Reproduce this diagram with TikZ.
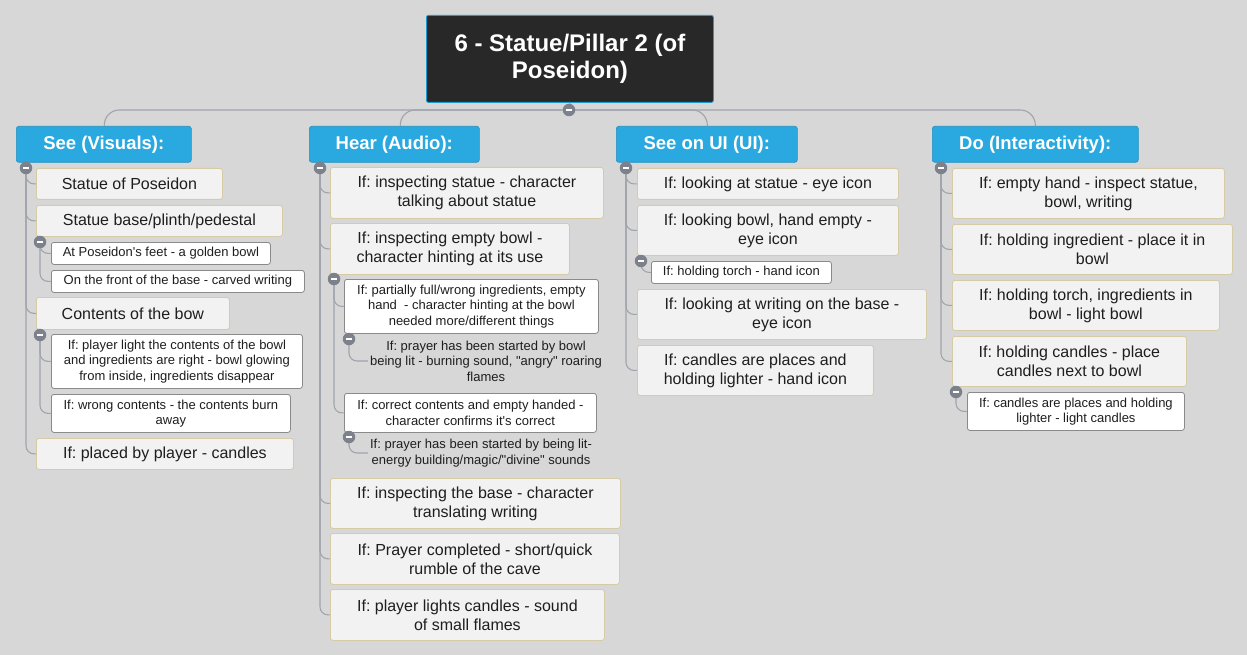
\documentclass[tikz,border=0pt]{standalone}
\usepackage{fontspec}
\setmainfont{Liberation Sans}[Ligatures=TeXOff]
\definecolor{bgc}{HTML}{D7D7D7}
\definecolor{headc}{HTML}{29A9E0}
\definecolor{titlec}{HTML}{282828}
\definecolor{titleb}{HTML}{1E9AD2}
\definecolor{bigfill}{HTML}{F2F2F2}
\definecolor{bigborder}{HTML}{D5CBA6}
\definecolor{smallborder}{HTML}{8A8A8A}
\definecolor{connc}{HTML}{A0A4AC}
\definecolor{knobc}{HTML}{7C818B}
\definecolor{txt}{HTML}{1E1E1E}
\newcommand\fbig{\fontsize{16}{19}\selectfont}
\newcommand\fsmall{\fontsize{13}{15.5}\selectfont}
\newcommand\fhead{\fontsize{18.5}{22}\selectfont\bfseries}
\newcommand\ftitle{\fontsize{24}{27}\selectfont\bfseries}
\frenchspacing
\begin{document}
\begin{tikzpicture}[x=1pt,y=-1pt,
  big/.style={draw=bigborder, fill=bigfill, rounded corners=2.5pt, inner sep=0pt, align=center, font=\fbig, text=txt, anchor=north west, line width=0.8pt},
  small/.style={draw=smallborder, fill=white, rounded corners=2.5pt, inner sep=0pt, align=center, font=\fsmall, text=txt, anchor=north west, line width=0.8pt},
  plain/.style={inner sep=2pt, align=center, font=\fsmall, text=txt},
  head/.style={fill=headc, draw=headc!85!black, rounded corners=2.5pt, inner sep=0pt, align=center, font=\fhead, text=white, anchor=north west, minimum height=36pt, line width=0.6pt},
  knob/.style={circle, fill=knobc, minimum size=12.5pt, inner sep=0pt,
    path picture={\draw[white, line width=1.6pt] ([xshift=-3pt]path picture bounding box.center) -- ([xshift=3pt]path picture bounding box.center);}},
  conn/.style={draw=connc, line width=1.1pt, rounded corners=8pt},
  topconn/.style={draw=connc, line width=1.1pt, rounded corners=15pt}
]
\useasboundingbox (0,0) rectangle (1247,655);
\fill[bgc] (0,0) rectangle (1247,655);

% title
\node[fill=titlec, draw=titleb, line width=0.8pt, rounded corners=2pt, anchor=north west, minimum width=287pt, minimum height=87pt, inner sep=0pt, align=center, font=\ftitle, text=white] (title) at (426,15) {6 - Statue/Pillar 2 (of\\Poseidon)};
\coordinate (tk) at (569,110);

% headers
\node[head, minimum width=175pt] (h1) at (16,126) {See (Visuals):};
\node[head, minimum width=170pt] (h2) at (309,126) {Hear (Audio):};
\node[head, minimum width=181pt] (h3) at (616,126) {See on UI (UI):};
\node[head, minimum width=206pt] (h4) at (932,126) {Do (Interactivity):};

% column 1
\node[big, minimum width=186pt, minimum height=31pt] (v1) at (36,168) {Statue of Poseidon};
\node[big, minimum width=246pt, minimum height=31pt] (v2) at (36,205) {Statue base/plinth/pedestal};
\node[small, minimum width=219pt, minimum height=22pt] (v2a) at (51,242) {At Poseidon's feet - a golden bowl};
\node[small, minimum width=253pt, minimum height=22pt] (v2b) at (51,270) {On the front of the base - carved writing};
\node[big, minimum width=193pt, minimum height=32pt] (v3) at (36,297) {Contents of the bow};
\node[small, minimum width=251pt, minimum height=54pt] (v3a) at (51,334) {If: player light the contents of the bowl\\and ingredients are right - bowl glowing\\from inside, ingredients disappear};
\node[small, minimum width=239pt, minimum height=38pt] (v3b) at (51,394) {If: wrong contents - the contents burn\\away};
\node[big, minimum width=257pt, minimum height=31pt] (v4) at (36,438) {If: placed by player - candles};

% column 2
\node[big, minimum width=273pt, minimum height=51pt] (a1) at (330,167) {If: inspecting statue - character\\talking about statue};
\node[big, minimum width=239pt, minimum height=51pt] (a2) at (330,223) {If: inspecting empty bowl -\\character hinting at its use};
\node[small, minimum width=254pt, minimum height=54pt] (a2a) at (344,279) {If: partially full/wrong ingredients, empty\\hand\ \ - character hinting at the bowl\\needed more/different things};
\node[plain] (a2a1) at (486,361) {If: prayer has been started by bowl\\being lit - burning sound, "angry" roaring\\flames};
\node[small, minimum width=252pt, minimum height=39pt] (a2b) at (344,393) {If: correct contents and empty handed -\\character confirms it's correct};
\node[plain] (a2b1) at (481,453) {If: prayer has been started by being lit-\\energy building/magic/"divine" sounds};
\node[big, minimum width=290pt, minimum height=50pt] (a3) at (330,478) {If: inspecting the base - character\\translating writing};
\node[big, minimum width=289pt, minimum height=51pt] (a4) at (330,533) {If: Prayer completed - short/quick\\rumble of the cave};
\node[big, minimum width=274pt, minimum height=51pt] (a5) at (330,589) {If: player lights candles - sound\\of small flames};

% column 3
\node[big, minimum width=261pt, minimum height=31pt] (u1) at (637,168) {If: looking at statue - eye icon};
\node[big, minimum width=261pt, minimum height=50pt] (u2) at (637,205) {If: looking bowl, hand empty -\\eye icon};
\node[small, minimum width=180pt, minimum height=22pt] (u2a) at (651,261) {If: holding torch - hand icon};
\node[big, minimum width=289pt, minimum height=50pt] (u3) at (637,289) {If: looking at writing on the base -\\eye icon};
\node[big, minimum width=236pt, minimum height=50pt] (u4) at (637,345) {If: candles are places and\\holding lighter - hand icon};

% column 4
\node[big, minimum width=272pt, minimum height=50pt] (d1) at (952,168) {If: empty hand - inspect statue,\\bowl, writing};
\node[big, minimum width=280pt, minimum height=50pt] (d2) at (952,224) {If: holding ingredient - place it in\\bowl};
\node[big, minimum width=267pt, minimum height=50pt] (d3) at (952,280) {If: holding torch, ingredients in\\bowl - light bowl};
\node[big, minimum width=234pt, minimum height=50pt] (d4) at (952,336) {If: holding candles - place\\candles next to bowl};
\node[small, minimum width=217pt, minimum height=38pt] (d4a) at (967,392) {If: candles are places and holding\\lighter - light candles};

% knob coordinates
\coordinate (k1) at (26,168);
\coordinate (k1b) at (40,242);
\coordinate (k1c) at (40,335);
\coordinate (k2) at (320,168);
\coordinate (k2a) at (334,279);
\coordinate (k2b) at (349,339);
\coordinate (k2c) at (349,437);
\coordinate (k3) at (626,168);
\coordinate (k3a) at (641,261);
\coordinate (k4) at (941,168);
\coordinate (k4a) at (956,392);

% connectors
\draw[draw=connc, line width=1.1pt] (title.south) -- (tk);
\draw[topconn] (tk) -| ([xshift=0.5pt]h1.north);
\draw[topconn] (tk) -| ([xshift=6pt]h2.north);
\draw[topconn] (tk) -| ([xshift=0.5pt]h3.north);
\draw[topconn] (tk) -| (h4.north);

\foreach \n in {v1,v2,v3,v4} \draw[conn] (k1) |- (\n.west);
\foreach \n in {v2a,v2b} \draw[conn] (k1b) |- (\n.west);
\foreach \n in {v3a,v3b} \draw[conn] (k1c) |- (\n.west);
\foreach \n in {a1,a2,a3,a4,a5} \draw[conn] (k2) |- (\n.west);
\foreach \n in {a2a,a2b} \draw[conn] (k2a) |- (\n.west);
\draw[conn] (k2b) |- (a2a1.west);
\draw[conn] (k2c) |- (a2b1.west);
\foreach \n in {u1,u2,u3,u4} \draw[conn] (k3) |- (\n.west);
\draw[conn] (k3a) |- (u2a.west);
\foreach \n in {d1,d2,d3,d4} \draw[conn] (k4) |- (\n.west);
\draw[conn] (k4a) |- (d4a.west);

% knobs on top
\foreach \k in {tk,k1,k1b,k1c,k2,k2a,k2b,k2c,k3,k3a,k4,k4a}
  \node[knob] (knob-\k) at (\k) {};
\end{tikzpicture}
\end{document}
